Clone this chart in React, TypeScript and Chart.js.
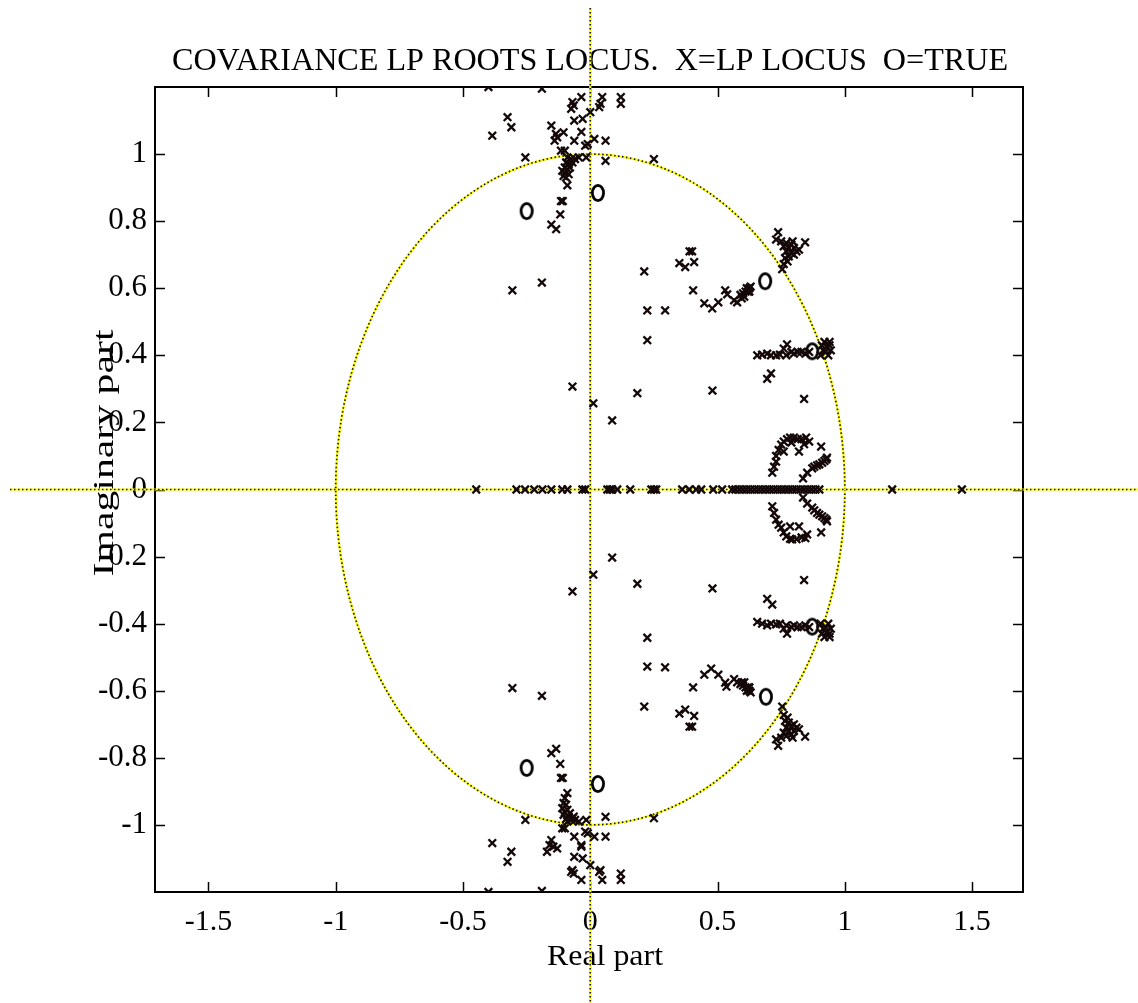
import React, { useEffect, useRef } from "react";
import { Chart, registerables } from "chart.js";

Chart.register(...registerables);

// ---- axes ----
const xRange = [-1.71, 1.7];
const yRange = [-1.2, 1.2];
const xTickValues = [-1.5, -1, -0.5, 0, 0.5, 1, 1.5];
const yTickValues = [-1, -0.8, -0.6, -0.4, -0.2, 0, 0.2, 0.4, 0.6, 0.8, 1];

const titleText = "COVARIANCE LP ROOTS LOCUS.  X=LP LOCUS  O=TRUE";
const xLabelText = "Real part";
const yLabelText = "Imaginary part";

// ---- true roots (O) ----
const trueRoots: [number, number][] = [
  [-0.25, 0.83], [0.03, 0.884], [0.687, 0.621], [0.872, 0.412],
  [-0.25, -0.83], [0.03, -0.878], [0.69, -0.618], [0.872, -0.409],
];

// ---- LP locus roots (X) ----
const lpRealAxis: number[] = [
  -0.448, -0.29, -0.256, -0.22, -0.188, -0.153, -0.11, -0.09, -0.031, -0.02,
  0.067, 0.077, 0.086, 0.106, 0.157, 0.24, 0.25, 0.259, 0.361, 0.389, 0.416,
  0.436, 0.483, 0.518, 0.557, 0.57, 0.585, 0.6, 0.615, 0.63, 0.645, 0.66,
  0.675, 0.69, 0.705, 0.72, 0.735, 0.75, 0.765, 0.78, 0.795, 0.81, 0.825,
  0.84, 0.855, 0.87, 0.885, 0.9, 1.186, 1.46,
];

const lpUpperTop: [number, number][] = [
  [-0.4, 1.2], [-0.19, 1.195], [-0.035, 1.17], [-0.07, 1.155], [-0.065, 1.145],
  [-0.075, 1.135], [0.047, 1.17], [0.04, 1.15], [0.035, 1.14], [0.12, 1.17],
  [0.12, 1.15], [0.0, 1.125], [-0.063, 1.1], [-0.03, 1.105], [-0.325, 1.11],
  [-0.31, 1.08], [-0.385, 1.055], [-0.153, 1.085], [-0.135, 1.06], [-0.13, 1.05],
  [-0.14, 1.04], [-0.105, 1.065], [-0.035, 1.066], [-0.063, 1.04], [0.016, 1.045],
  [0.06, 1.04], [-0.02, 1.025], [-0.01, 1.03], [-0.115, 1.01], [-0.1, 1.01],
  [-0.255, 0.99], [-0.016, 0.99], [0.06, 0.98], [0.25, 0.985],
  [-0.09, 0.99], [-0.075, 0.985], [-0.06, 0.985], [-0.045, 0.99], [-0.095, 0.975],
  [-0.085, 0.97], [-0.07, 0.975], [-0.1, 0.96], [-0.09, 0.955], [-0.1, 0.945],
  [-0.085, 0.94], [-0.105, 0.935], [-0.095, 0.93], [-0.11, 0.95], [-0.08, 0.96],
  [-0.09, 0.907], [-0.115, 0.86], [-0.108, 0.86], [-0.118, 0.82], [-0.153, 0.79],
  [-0.134, 0.776],
];

const lpUpperMid: [number, number][] = [
  [-0.306, 0.594], [-0.19, 0.617], [-0.07, 0.307], [0.012, 0.257], [0.086, 0.206],
  [0.212, 0.65], [0.224, 0.534], [0.224, 0.445], [0.185, 0.287], [0.294, 0.534],
  [0.39, 0.71], [0.4, 0.71], [0.35, 0.675], [0.373, 0.663], [0.408, 0.678],
  [0.404, 0.594], [0.448, 0.555], [0.479, 0.54], [0.503, 0.558], [0.53, 0.594],
  [0.538, 0.582], [0.565, 0.564], [0.577, 0.558], [0.59, 0.58], [0.6, 0.585],
  [0.61, 0.59], [0.615, 0.6], [0.625, 0.6], [0.63, 0.605], [0.62, 0.59],
  [0.605, 0.575], [0.595, 0.57], [0.625, 0.59], [0.48, 0.295],
];

const lpUpperRight: [number, number][] = [
  [0.738, 0.767], [0.75, 0.74], [0.77, 0.735], [0.79, 0.73], [0.76, 0.725],
  [0.78, 0.72], [0.8, 0.72], [0.77, 0.71], [0.79, 0.705], [0.81, 0.71],
  [0.78, 0.695], [0.8, 0.7], [0.765, 0.69], [0.775, 0.68], [0.76, 0.672],
  [0.82, 0.715], [0.73, 0.745], [0.795, 0.74], [0.844, 0.737], [0.754, 0.657],
  [0.656, 0.4], [0.675, 0.402], [0.695, 0.405], [0.71, 0.4], [0.73, 0.4],
  [0.745, 0.402], [0.77, 0.4], [0.773, 0.433], [0.76, 0.42], [0.79, 0.41],
  [0.8, 0.405], [0.815, 0.41], [0.83, 0.41], [0.845, 0.405], [0.86, 0.41],
  [0.91, 0.43], [0.92, 0.44], [0.93, 0.425], [0.94, 0.43], [0.925, 0.41],
  [0.935, 0.4], [0.945, 0.415], [0.915, 0.415], [0.905, 0.4], [0.94, 0.44],
  [0.71, 0.346], [0.695, 0.33], [0.84, 0.27],
  [0.715, 0.05], [0.722, 0.068], [0.73, 0.083], [0.73, 0.1], [0.74, 0.118],
  [0.75, 0.134], [0.76, 0.143], [0.773, 0.15], [0.785, 0.155], [0.8, 0.155],
  [0.815, 0.15], [0.83, 0.15], [0.848, 0.155], [0.86, 0.143], [0.76, 0.113],
  [0.82, 0.113], [0.907, 0.128], [0.79, 0.14], [0.84, 0.135],
  [0.836, 0.033], [0.852, 0.05], [0.872, 0.063], [0.891, 0.072], [0.911, 0.08],
  [0.927, 0.09], [0.92, 0.085], [0.9, 0.075], [0.88, 0.068], [0.93, 0.095],
];

const lpLowerBottom: [number, number][] = [
  [-0.153, -0.786], [-0.134, -0.773], [-0.118, -0.818], [-0.115, -0.86], [-0.108, -0.86],
  [-0.09, -0.905], [-0.1, -0.92], [-0.105, -0.935], [-0.095, -0.94], [-0.11, -0.95],
  [-0.09, -0.955], [-0.1, -0.962], [-0.08, -0.965], [-0.085, -0.975], [-0.07, -0.98],
  [-0.095, -0.982], [-0.075, -0.985], [-0.06, -0.985], [-0.045, -0.99], [-0.09, -0.99],
  [-0.105, -0.97], [-0.065, -0.975], [-0.255, -0.985], [-0.016, -0.985], [0.06, -0.976],
  [0.25, -0.98], [-0.11, -1.01], [-0.1, -1.01], [-0.02, -1.02], [-0.01, -1.025],
  [0.016, -1.035], [0.06, -1.035], [-0.063, -1.035], [-0.153, -1.045], [-0.16, -1.06],
  [-0.145, -1.065], [-0.17, -1.08], [-0.13, -1.07], [-0.035, -1.06], [-0.035, -1.065],
  [-0.385, -1.054], [-0.31, -1.08], [-0.325, -1.11], [-0.063, -1.095], [-0.03, -1.1],
  [0.0, -1.12], [-0.07, -1.135], [-0.065, -1.145], [-0.075, -1.14], [0.04, -1.135],
  [0.047, -1.164], [0.035, -1.14], [0.12, -1.145], [0.12, -1.164], [-0.035, -1.164],
  [-0.4, -1.2], [-0.19, -1.197],
];

const lpLowerMid: [number, number][] = [
  [0.086, -0.203], [0.012, -0.254], [-0.07, -0.304], [0.185, -0.281], [0.224, -0.442],
  [0.224, -0.528], [0.212, -0.647], [-0.306, -0.592], [-0.19, -0.615], [0.294, -0.53],
  [0.48, -0.295], [0.448, -0.552], [0.475, -0.534], [0.503, -0.552], [0.53, -0.576],
  [0.535, -0.588], [0.565, -0.565], [0.577, -0.575], [0.59, -0.58], [0.6, -0.585],
  [0.61, -0.59], [0.615, -0.6], [0.625, -0.6], [0.63, -0.605], [0.62, -0.59],
  [0.605, -0.575], [0.595, -0.575], [0.625, -0.59], [0.404, -0.59], [0.35, -0.668],
  [0.373, -0.656], [0.408, -0.675], [0.39, -0.707], [0.4, -0.707],
];

const lpLowerRight: [number, number][] = [
  [0.695, -0.326], [0.715, -0.343], [0.656, -0.395], [0.675, -0.4], [0.695, -0.405],
  [0.71, -0.4], [0.73, -0.402], [0.745, -0.4], [0.77, -0.405], [0.773, -0.43],
  [0.76, -0.415], [0.79, -0.41], [0.8, -0.405], [0.815, -0.41], [0.83, -0.41],
  [0.845, -0.405], [0.86, -0.41], [0.91, -0.43], [0.92, -0.44], [0.93, -0.425],
  [0.94, -0.43], [0.925, -0.41], [0.935, -0.4], [0.945, -0.415], [0.915, -0.415],
  [0.905, -0.4], [0.94, -0.44], [0.754, -0.647], [0.75, -0.74], [0.77, -0.735],
  [0.79, -0.73], [0.76, -0.725], [0.78, -0.72], [0.8, -0.72], [0.77, -0.71],
  [0.79, -0.705], [0.81, -0.71], [0.78, -0.695], [0.8, -0.7], [0.765, -0.69],
  [0.775, -0.68], [0.76, -0.672], [0.82, -0.715], [0.73, -0.745], [0.795, -0.74],
  [0.844, -0.737], [0.738, -0.764], [0.84, -0.27],
  [0.715, -0.05], [0.722, -0.07], [0.73, -0.09], [0.74, -0.105], [0.75, -0.114],
  [0.76, -0.128], [0.77, -0.14], [0.785, -0.147], [0.793, -0.149], [0.81, -0.148],
  [0.83, -0.143], [0.852, -0.134], [0.785, -0.11], [0.82, -0.11], [0.907, -0.128],
  [0.845, -0.145],
  [0.836, -0.024], [0.852, -0.042], [0.872, -0.054], [0.891, -0.07], [0.911, -0.08],
  [0.927, -0.09], [0.92, -0.085], [0.9, -0.075], [0.88, -0.062], [0.93, -0.095],
];

const FONT = "'Liberation Serif', 'Times New Roman', serif";

function drawFittedText(
  ctx: CanvasRenderingContext2D,
  text: string,
  cx: number,
  baseline: number,
  size: number,
  targetWidth: number,
  rotate: boolean
) {
  ctx.save();
  ctx.font = `${size}px ${FONT}`;
  ctx.fillStyle = "#000";
  ctx.textAlign = "center";
  ctx.textBaseline = "alphabetic";
  const w = ctx.measureText(text).width;
  const sx = targetWidth / w;
  if (rotate) {
    ctx.translate(baseline, cx);
    ctx.rotate(-Math.PI / 2);
  } else {
    ctx.translate(cx, baseline);
  }
  ctx.scale(sx, 1);
  ctx.fillText(text, 0, 0);
  ctx.restore();
}

function dottedPath(ctx: CanvasRenderingContext2D, build: () => void) {
  build();
  ctx.setLineDash([]);
  ctx.strokeStyle = "#ffff00";
  ctx.lineWidth = 2.2;
  ctx.stroke();
  build();
  ctx.setLineDash([1.5, 2.5]);
  ctx.strokeStyle = "#1a1a1a";
  ctx.lineWidth = 1.7;
  ctx.stroke();
  ctx.setLineDash([]);
}

const decorPlugin = {
  id: "decor",
  beforeDatasetsDraw(chart: any) {
    const ctx: CanvasRenderingContext2D = chart.ctx;
    const { left, right, top, bottom } = chart.chartArea;
    const xs = chart.scales.x;
    const ys = chart.scales.y;
    ctx.save();
    // texts
    drawFittedText(ctx, titleText, 590, 70, 32, 836, false);
    drawFittedText(ctx, xLabelText, 605, 965, 30, 116, false);
    drawFittedText(ctx, yLabelText, 453, 113, 30, 247, true);

    // frame
    ctx.strokeStyle = "#000";
    ctx.lineWidth = 2;
    ctx.strokeRect(left, top, right - left, bottom - top);
    // inward ticks
    ctx.lineWidth = 1.5;
    ctx.beginPath();
    xTickValues.forEach((v) => {
      const px = Math.round(xs.getPixelForValue(v)) + 0.5;
      ctx.moveTo(px, bottom);
      ctx.lineTo(px, bottom - 10);
      ctx.moveTo(px, top);
      ctx.lineTo(px, top + 10);
    });
    yTickValues.forEach((v) => {
      const py = Math.round(ys.getPixelForValue(v)) + 0.5;
      ctx.moveTo(left, py);
      ctx.lineTo(left + 10, py);
      ctx.moveTo(right, py);
      ctx.lineTo(right - 10, py);
    });
    ctx.stroke();

    // unit circle
    const cx = xs.getPixelForValue(0);
    const cy = ys.getPixelForValue(0);
    const rx = xs.getPixelForValue(1) - cx;
    const ry = cy - ys.getPixelForValue(1);
    dottedPath(ctx, () => {
      ctx.beginPath();
      ctx.ellipse(cx, cy, rx, ry, 0, 0, Math.PI * 2);
    });
    // real & imaginary axes lines
    dottedPath(ctx, () => {
      ctx.beginPath();
      ctx.moveTo(10, cy);
      ctx.lineTo(chart.width, cy);
    });
    dottedPath(ctx, () => {
      ctx.beginPath();
      ctx.moveTo(cx, 8);
      ctx.lineTo(cx, chart.height);
    });
    ctx.restore();
  },
};

function makeOMarker(): HTMLCanvasElement {
  const c = document.createElement("canvas");
  c.width = 20;
  c.height = 24;
  const g = c.getContext("2d")!;
  g.strokeStyle = "#000";
  g.lineWidth = 2.8;
  g.beginPath();
  g.ellipse(10, 12, 5.6, 7.6, 0, 0, Math.PI * 2);
  g.stroke();
  return c;
}

export default function App() {
  const ref = useRef<HTMLCanvasElement | null>(null);
  useEffect(() => {
    if (!ref.current) return;
    const toPts = (arr: [number, number][]) => arr.map(([re, im]) => ({ x: re, y: im }));
    const lpPoints = [
      ...toPts(lpUpperTop),
      ...toPts(lpUpperMid),
      ...toPts(lpUpperRight),
      ...lpRealAxis.map((re) => ({ x: re, y: 0 })),
      ...toPts(lpLowerMid),
      ...toPts(lpLowerRight),
      ...toPts(lpLowerBottom),
    ];
    const chart = new Chart(ref.current, {
      type: "scatter",
      data: {
        datasets: [
          {
            label: "LP locus",
            data: lpPoints,
            pointStyle: "crossRot",
            pointRadius: 5.4,
            pointHoverRadius: 5.4,
            pointBorderWidth: 2.3,
            borderColor: "#140808",
            backgroundColor: "#140808",
          },
          {
            label: "True",
            data: toPts(trueRoots),
            pointStyle: makeOMarker() as any,
            pointRadius: 8,
            borderColor: "#000",
          },
        ],
      },
      plugins: [decorPlugin],
      options: {
        responsive: false,
        animation: false,
        events: [],
        layout: { padding: { top: 87, right: 115, bottom: 0, left: 0 } },
        plugins: {
          legend: { display: false },
          title: { display: false },
          tooltip: { enabled: false },
        },
        scales: {
          x: {
            type: "linear",
            min: xRange[0],
            max: xRange[1],
            grid: { display: false, drawTicks: false },
            border: { display: false },
            afterBuildTicks: (s: any) => {
              s.ticks = xTickValues.map((v) => ({ value: v }));
            },
            afterFit: (s: any) => {
              s.height = 111;
            },
            ticks: {
              autoSkip: false,
              maxRotation: 0,
              padding: 12,
              color: "#000",
              font: { family: FONT, size: 30 },
              callback: (v: any) => String(v),
            },
          },
          y: {
            type: "linear",
            min: yRange[0],
            max: yRange[1],
            grid: { display: false, drawTicks: false },
            border: { display: false },
            afterBuildTicks: (s: any) => {
              s.ticks = yTickValues.map((v) => ({ value: v }));
            },
            afterFit: (s: any) => {
              s.width = 155;
            },
            ticks: {
              autoSkip: false,
              padding: 8,
              color: "#000",
              font: { family: FONT, size: 31 },
              callback: (v: any) => String(v),
            },
          },
        },
      },
    });
    return () => chart.destroy();
  }, []);
  return (
    <div style={{ position: "fixed", left: 0, top: 0, width: 1138, height: 1003, background: "#fff" }}>
      <canvas ref={ref} width={1138} height={1003} style={{ display: "block" }} />
    </div>
  );
}
